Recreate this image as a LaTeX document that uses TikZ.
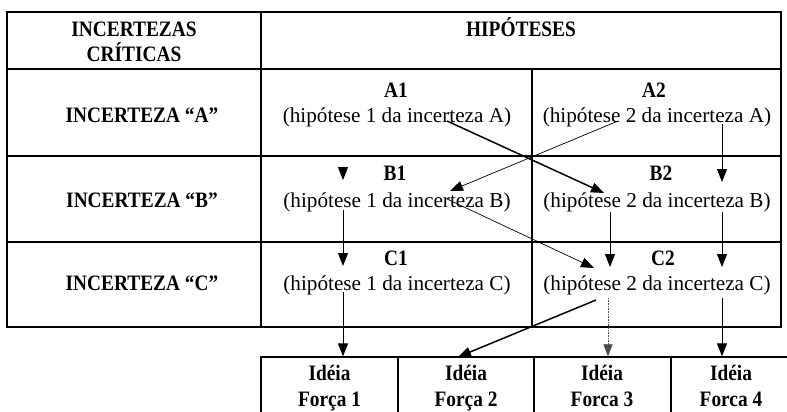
\documentclass[tikz,border=0pt]{standalone}
\usepackage{fontspec}
\setmainfont{Liberation Serif}
\newfontfamily\bcond[FakeStretch=0.88]{Liberation Serif}
\usetikzlibrary{arrows.meta}
\begin{document}
\begin{tikzpicture}[x=1pt,y=-1pt,
  grid/.style={line width=1.2pt, line cap=rect},
  bl/.style={font=\bcond\fontsize{22}{26}\selectfont\bfseries, inner sep=0pt, anchor=base},
  hy/.style={font=\fontsize{21.2}{25}\selectfont, inner sep=0pt, anchor=base},
  idbox/.style={draw, line width=1.2pt, minimum height=57pt, inner sep=0pt},
  thk/.style={line width=1.5pt, -{Triangle[length=13pt,width=10pt]}},
  med/.style={line width=1pt, -{Triangle[length=13pt,width=10pt]}},
  thn/.style={line width=0.7pt, -{Triangle[length=13pt,width=10pt]}},
  dotarr/.style={line width=0.6pt, densely dotted, black!70, -{Triangle[length=12pt,width=9pt]}}
]
\useasboundingbox (0,0) rectangle (787,412);
\clip (0,0) rectangle (787,412);
\fill[white] (0,0) rectangle (787,412);

% table grid
\draw[grid] (7,12) rectangle (781,327);
\draw[grid] (7,69) -- (781,69);
\draw[grid] (7,156) -- (781,156);
\draw[grid] (7,242) -- (781,242);
\draw[grid] (261,12) -- (261,327);
\draw[grid] (532,69) -- (532,327);

% idea boxes
\node[idbox, minimum width=137pt] (i1) at (329.5,385.5) {};
\node[idbox, minimum width=136pt] (i2) at (466,385.5) {};
\node[idbox, minimum width=137pt] (i3) at (602.5,385.5) {};
\node[idbox, minimum width=121pt] (i4) at (731.5,385.5) {};

% texts
\node[bl] (hc1) at (134,37) {INCERTEZAS};
\node[bl] (hc2) at (134,62) {CRÍTICAS};
\node[bl] (hh) at (521,37) {HIPÓTESES};
\node[bl] (ia) at (142,122) {INCERTEZA “A”};
\node[bl] (ib) at (142,207) {INCERTEZA “B”};
\node[bl] (ic) at (142,290) {INCERTEZA “C”};

\node[bl] (a1) at (396,97) {A1};
\node[hy] (a1t) at (397,122) {(hipótese 1 da incerteza A)};
\node[bl] (a2) at (654,97) {A2};
\node[hy] (a2t) at (657,122) {(hipótese 2 da incerteza A)};
\node[bl] (b1) at (395,180) {B1};
\node[hy] (b1t) at (397,207) {(hipótese 1 da incerteza B)};
\node[bl] (b2) at (661,180) {B2};
\node[hy] (b2t) at (657,207) {(hipótese 2 da incerteza B)};
\node[bl] (c1) at (396,265) {C1};
\node[hy] (c1t) at (397,290) {(hipótese 1 da incerteza C)};
\node[bl] (c2) at (663,265) {C2};
\node[hy] (c2t) at (657,290) {(hipótese 2 da incerteza C)};

\node[bl] (i1a) at (329.5,380) {Idéia};
\node[bl] (i1b) at (329.5,406) {Força 1};
\node[bl] (i2a) at (466,380) {Idéia};
\node[bl] (i2b) at (466,406) {Força 2};
\node[bl] (i3a) at (602,380) {Idéia};
\node[bl] (i3b) at (602,406) {Forca 3};
\node[bl] (i4a) at (731,380) {Idéia};
\node[bl] (i4b) at (731,406) {Forca 4};

% connector end points
\coordinate (p1) at (447,121);  \coordinate (q1) at (604,193);
\coordinate (p2) at (618,121);  \coordinate (q2) at (450,191);
\coordinate (p3) at (722,124);  \coordinate (q3) at (722,182);
\coordinate (p4) at (343,167);  \coordinate (q4) at (343,180);
\coordinate (p5) at (343,210);  \coordinate (q5) at (343,266);
\coordinate (p6) at (447,199);  \coordinate (q6) at (594,268);
\coordinate (p7) at (610,212);  \coordinate (q7) at (610,267);
\coordinate (p8) at (722,212);  \coordinate (q8) at (722,267);
\coordinate (p9) at (343,292);
\coordinate (p10) at (596,300); \coordinate (q10) at (458,357);
\coordinate (p11) at (608,298);
\coordinate (p12) at (722,298);

% connectors
\draw[thk] (p1) -- (q1);
\draw[thn] (p2) -- (q2);
\draw[med] (p3) -- (q3);
\draw[med] (p4) -- (q4);
\draw[med] (p5) -- (q5);
\draw[thn] (p6) -- (q6);
\draw[med] (p7) -- (q7);
\draw[med] (p8) -- (q8);
\draw[med] (p9) -- (p9 |- i1.north);
\draw[thk] (p10) -- (q10);
\draw[dotarr] (p11) -- (p11 |- i3.north);
\draw[med] (p12) -- (p12 |- i4.north);
\end{tikzpicture}
\end{document}
